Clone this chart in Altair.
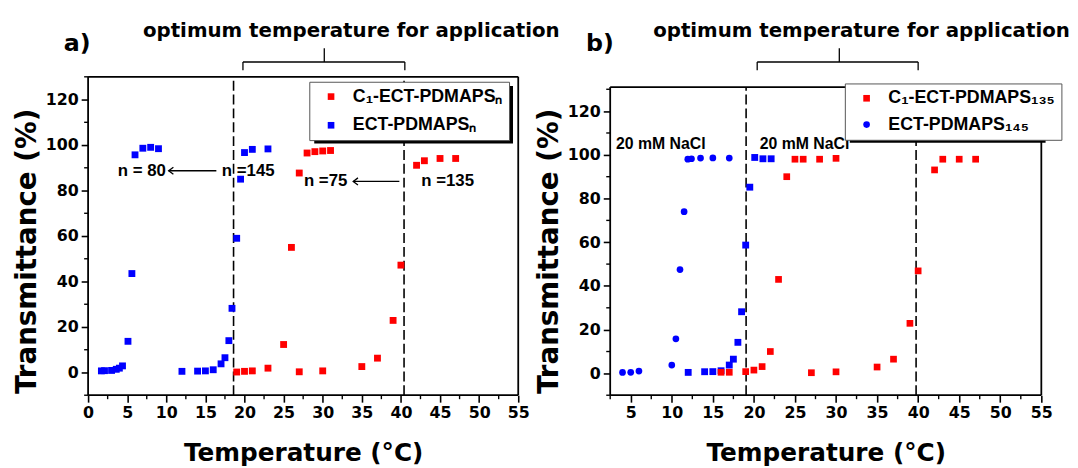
import altair as alt
import pandas as pd

# ---------------- data: panel a ----------------
a_red_x = [19, 20, 21, 23, 25, 26, 27, 27, 28, 29, 30, 31, 30, 35, 37, 39, 40, 42, 43, 45, 47]
a_red_y = [0.2, 0.5, 0.7, 1.9, 12.3, 55.0, 87.7, 0.3, 96.5, 97.1, 97.4, 97.6, 0.7, 2.6, 6.3, 22.9, 47.2, 91.1, 93.1, 94.1, 94.1]
a_blue_x = [1.7, 2.1, 3.0, 3.6, 4.0, 4.4, 5.1, 5.6, 6.0, 7.0, 8.0, 9.0,
            12.0, 14.0, 15.0, 16.0, 17.0, 17.5, 18.0, 18.4, 19.0, 19.5, 20.0, 21.0, 23.0]
a_blue_y = [0.7, 0.8, 0.9, 1.4, 1.9, 2.9, 13.7, 43.5, 95.7, 98.6, 99.0, 98.4,
            0.5, 0.6, 0.7, 1.2, 3.8, 6.5, 14.0, 28.2, 59.0, 85.0, 96.7, 98.1, 98.3]
a_series = ["C\u2081-ECT-PDMAPS\u2099", "ECT-PDMAPS\u2099"]
a_dashed = [18.6, 40.4]
a_notes = ["n = 80", "n =145", "n =75", "n =135"]
a_notes_x = [3.8, 17.1, 27.6, 42.6]
a_notes_y = [88.7, 88.7, 84.0, 84.0]
a_arrow_from = [16.4, 39.8]
a_arrow_to = [10.3, 33.9]
a_arrow_y = [88.7, 84.0]
a_bracket = [19.8, 30.2, 40.5]
a_head_x = 33.65

# ---------------- data: panel b ----------------
b_red_x = [16, 17, 19, 20, 21, 22, 23, 24, 25, 26, 28, 30, 27, 30, 35, 37, 39, 40, 42, 43, 45, 47]
b_red_y = [0.5, 0.5, 0.8, 1.5, 3.1, 10.0, 43.0, 90.0, 98.0, 98.0, 98.0, 98.4, 0.3, 0.7, 2.9, 6.5, 22.9, 46.9, 93.1, 98.0, 98.0, 98.0]
b_circ_x = [4.0, 5.0, 6.0, 10.0, 10.5, 11.0, 11.5, 11.95, 12.4, 13.5, 15.0, 17.0]
b_circ_y = [0.45, 0.5, 1.05, 3.8, 15.8, 47.5, 74.0, 98.0, 98.2, 98.5, 98.6, 98.5]
b_sq_x = [12.0, 14.0, 15.0, 16.0, 17.0, 17.5, 18.05, 18.5, 19.0, 19.5, 20.1, 21.1, 22.1]
b_sq_y = [0.45, 0.75, 0.8, 1.2, 3.8, 6.5, 14.2, 28.2, 58.7, 85.2, 98.8, 98.2, 98.2]
b_series = ["C\u2081-ECT-PDMAPS\u2081\u2083\u2085", "ECT-PDMAPS\u2081\u2084\u2085"]
b_dashed = [19.05, 39.75]
b_notes = ["20 mM NaCl", "20 mM NaCl"]
b_notes_x = [3.2, 20.7]
b_notes_y = [104.8, 104.8]
b_bracket = [20.4, 30.4, 40.0]
b_head_x = 33.1

headline = "optimum temperature for application"
x_ticks_a = list(range(0, 56, 5))
x_ticks_b = list(range(5, 56, 5))
y_ticks = list(range(0, 121, 20))
x_minor = [2.5 + 5 * i for i in range(11)]
y_minor = [-10 + 20 * i for i in range(8)]

NUMF = "DejaVu Sans"
LEGF = "Liberation Sans"
H = 322


def axes(ticks):
    xa = alt.Axis(values=ticks, title="Temperature (\u00b0C)", domain=False, grid=False,
                  tickSize=7, tickWidth=1.6, tickColor="black",
                  labelFont=NUMF, labelFontSize=16, labelFontWeight="bold", labelColor="black",
                  labelPadding=3, labelFlush=False, labelOverlap=False,
                  titleFont=NUMF, titleFontSize=25, titleFontWeight="bold", titleColor="black",
                  titlePadding=20)
    ya = alt.Axis(values=y_ticks, title="Transmittance (%)", domain=False, grid=False,
                  tickSize=7, tickWidth=1.6, tickColor="black",
                  labelFont=NUMF, labelFontSize=16, labelFontWeight="bold", labelColor="black",
                  labelPadding=3, labelFlush=False, labelOverlap=False,
                  titleFont=NUMF, titleFontSize=28, titleFontWeight="bold", titleColor="black",
                  titlePadding=4, titleY=176)
    return xa, ya


def panel(W, xdom, ydom, top, ticks, main_df, series, shapes, legend_xy, extra_sq,
          dashed, notes, notes_x, notes_y, arrows, bracket, head_x, tag, shadow, leg_opts):
    xs = alt.Scale(domain=xdom, nice=False, zero=False)
    ys = alt.Scale(domain=ydom, nice=False, zero=False)
    xa, ya = axes(ticks)
    x0, x1 = xdom[0], xdom[1]
    y0 = ydom[0]

    layers = []
    frame = pd.DataFrame({"T": [x0, x0, x0, x1], "T2": [x1, x1, x0, x1],
                          "Tr": [y0, top, y0, y0], "Tr2": [y0, top, top, top]})
    layers.append(alt.Chart(frame).mark_rule(color="black", strokeWidth=1.8).encode(
        x=alt.X("T:Q", scale=xs, axis=xa), x2="T2:Q",
        y=alt.Y("Tr:Q", scale=ys, axis=ya), y2="Tr2:Q"))
    layers.append(alt.Chart(pd.DataFrame({"T": x_minor})).mark_rule(color="black", strokeWidth=1.4).encode(
        x=alt.X("T:Q", axis=xa), y=alt.value(H), y2=alt.value(H + 4)))
    layers.append(alt.Chart(pd.DataFrame({"Tr": y_minor})).mark_rule(color="black", strokeWidth=1.4).encode(
        y=alt.Y("Tr:Q", axis=ya), x=alt.value(0), x2=alt.value(-4)))
    layers.append(alt.Chart(pd.DataFrame({"T": dashed, "Tr": [y0] * 2, "Tr2": [top] * 2})).mark_rule(
        color="black", strokeWidth=1.6, strokeDash=[10, 4]).encode(
        x=alt.X("T:Q", axis=xa), y=alt.Y("Tr:Q", axis=ya), y2="Tr2:Q"))
    if extra_sq is not None:
        layers.append(alt.Chart(extra_sq).mark_point(shape="square", filled=True, size=48, opacity=1,
                                                      color="#0000ff").encode(
            x=alt.X("T:Q", axis=xa), y=alt.Y("Tr:Q", axis=ya)))
    enc = dict(x=alt.X("T:Q", axis=xa), y=alt.Y("Tr:Q", axis=ya),
               color=alt.Color("s:N", scale=alt.Scale(domain=series, range=["#ff0000", "#0000ff"]),
                               legend=alt.Legend(title=None, orient="none", legendX=legend_xy[0],
                                                 legendY=legend_xy[1], **leg_opts)))
    if shapes is not None:
        enc["shape"] = alt.Shape("s:N", scale=alt.Scale(domain=series, range=shapes), legend=None)
        layers.append(alt.Chart(main_df).mark_point(filled=True, size=46, opacity=1).encode(**enc))
    else:
        layers.append(alt.Chart(main_df).mark_point(shape="square", filled=True, size=48, opacity=1).encode(**enc))
    layers.append(alt.Chart(pd.DataFrame({"T": notes_x, "Tr": notes_y, "txt": notes})).mark_text(
        font=LEGF, fontSize=17 if arrows else 16, fontWeight="bold", color="black", align="left",
        baseline="middle").encode(x=alt.X("T:Q", axis=xa), y=alt.Y("Tr:Q", axis=ya), text="txt:N"))
    if arrows:
        adf = pd.DataFrame({"T": arrows[0], "T2": arrows[1], "Tr": arrows[2]})
        layers.append(alt.Chart(adf).mark_rule(color="black", strokeWidth=1.3).encode(
            x=alt.X("T:Q", axis=xa), x2="T2:Q", y=alt.Y("Tr:Q", axis=ya)))
        layers.append(alt.Chart(adf).mark_point(shape="M1.6,-1.2L0,0L1.6,1.2", filled=False, size=36,
                                                 color="black", strokeWidth=1.3, opacity=1).encode(
            x=alt.X("T2:Q", axis=xa), y=alt.Y("Tr:Q", axis=ya)))
    bl, bc, br = bracket
    layers.append(alt.Chart(pd.DataFrame({"T": [bl], "T2": [br]})).mark_rule(color="black", strokeWidth=1.3).encode(
        x=alt.X("T:Q", axis=xa), x2="T2:Q", y=alt.value(-15)))
    layers.append(alt.Chart(pd.DataFrame({"T": [bl, br]})).mark_rule(color="black", strokeWidth=1.3).encode(
        x=alt.X("T:Q", axis=xa), y=alt.value(-15), y2=alt.value(-6.6)))
    layers.append(alt.Chart(pd.DataFrame({"T": [bc]})).mark_rule(color="black", strokeWidth=1.3).encode(
        x=alt.X("T:Q", axis=xa), y=alt.value(-29), y2=alt.value(-15)))
    layers.append(alt.Chart(pd.DataFrame({"T": [head_x], "txt": [headline]})).mark_text(
        font=NUMF, fontSize=20, fontWeight="bold", color="black", align="center",
        baseline="alphabetic").encode(x=alt.X("T:Q", axis=xa), y=alt.value(-40), text="txt:N"))
    layers.append(alt.Chart(pd.DataFrame({"txt": [tag]})).mark_text(
        font=NUMF, fontSize=24, fontWeight="bold", color="black", align="left",
        baseline="alphabetic").encode(x=alt.value(-24.5), y=alt.value(-26.6), text="txt:N"))
    sx0, sy0, sx1, sy1 = shadow
    layers.append(alt.Chart(pd.DataFrame({"k": [0]})).mark_rect(color="black").encode(
        x=alt.value(sx0), x2=alt.value(sx1), y=alt.value(sy0), y2=alt.value(sy1)))
    return alt.layer(*layers).properties(width=W, height=H)


a_df = pd.DataFrame({"T": a_red_x + a_blue_x, "Tr": a_red_y + a_blue_y,
                     "s": [a_series[0]] * len(a_red_x) + [a_series[1]] * len(a_blue_x)})
b_df = pd.DataFrame({"T": b_red_x + b_circ_x, "Tr": b_red_y + b_circ_y,
                     "s": [b_series[0]] * len(b_red_x) + [b_series[1]] * len(b_circ_x)})
b_sq = pd.DataFrame({"T": b_sq_x, "Tr": b_sq_y})

leg_common = dict(padding=6, symbolOffset=7, labelOffset=13, symbolSize=45,
                  labelFont=LEGF, labelFontSize=18, labelFontWeight="bold", labelColor="black",
                  strokeColor="#555555", fillColor="white", cornerRadius=0, labelLimit=400,
                  symbolStrokeWidth=0)

pa = panel(435, [0, 55], [-10, 130], 130, x_ticks_a, a_df, a_series, None, (223.7, 5), None,
           a_dashed, a_notes, a_notes_x, a_notes_y, (a_arrow_from, a_arrow_to, a_arrow_y),
           a_bracket, a_head_x, "a)", (228.7, 9.4, 429.7, 67.4),
           dict(leg_common, rowPadding=11, symbolType="square"))
pb = panel(436, [2.5, 55], [-10, 135.7], 131, x_ticks_b, b_df, b_series, ["square", "circle"],
           (237.3, 6.7), b_sq, b_dashed, b_notes, b_notes_x, b_notes_y, None,
           b_bracket, b_head_x, "b)", (242.3, 11.7, 440.3, 66.7),
           dict(leg_common, rowPadding=8.6))

chart = alt.hconcat(pa, pb, spacing=93, bounds="flush").resolve_scale(
    x="independent", y="independent", color="independent", shape="independent"
).resolve_legend(color="independent", shape="independent").configure_view(stroke=None).configure_axis(
    labelOverlap=False).properties(
    padding={"left": 5, "top": 11, "right": 0, "bottom": 0})

chart.save("out.html", embed_options={"renderer": "svg", "actions": False})
